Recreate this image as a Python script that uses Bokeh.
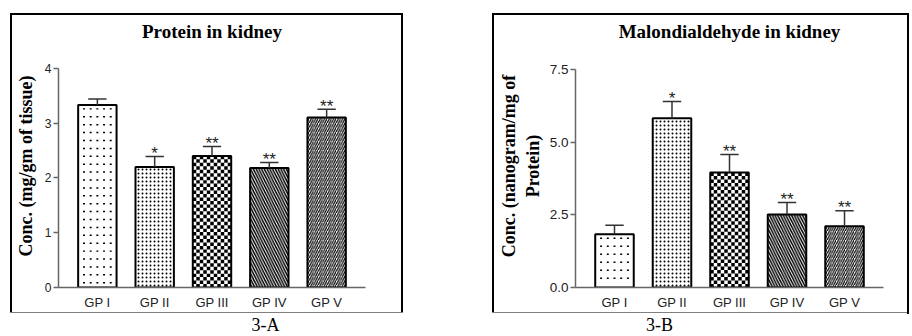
from bokeh.plotting import figure
from bokeh.layouts import row, column
from bokeh.models import Range1d, FixedTicker, NumeralTickFormatter, Spacer
from bokeh.core.properties import value
from bokeh.embed import file_html
from bokeh.resources import INLINE

# ---------------- data ----------------
groups = ["GP I", "GP II", "GP III", "GP IV", "GP V"]

protein_mean = [3.33, 2.20, 2.40, 2.18, 3.10]
protein_sem = [0.11, 0.19, 0.17, 0.10, 0.15]
protein_sig = ["", "*", "**", "**", "**"]
protein_ticks = [0, 1, 2, 3, 4]

mda_mean = [1.83, 5.83, 3.96, 2.51, 2.11]
mda_sem = [0.31, 0.57, 0.62, 0.42, 0.53]
mda_sig = ["", "*", "**", "**", "**"]
mda_ticks = [0.0, 2.5, 5.0, 7.5]

panel_labels = ["3-A", "3-B"]

# ---------------- styles ----------------
SERIF = "Liberation Serif"
SANS = "Liberation Sans"
PH = 297             # panel figure height (inside the black frame)
PAD = 0.678          # category padding (in category units)
BAR_W = 0.67
CAP_W = 0.32
CELL_PX = 3.5        # checkerboard cell size (px)
DOT_DX, DOT_DY = 6.7, 8.0   # sparse dot spacing (px)

# fill style of each group's bar
patterns = [
    ("sparse", None, None),
    ("dot", 4, 1.0),
    ("checker", None, None),
    ("left_diagonal_line", 5.5, 1.5),
    ("right_diagonal_line", 4.5, 1.2),
]
FRAME_CSS = {"outline": "2px solid black"}


def panel(title, ylabel, means, sems, sigs, ticks, width, mb_left, mb_right, mb_bottom,
          ymax, tick_fmt=None, tick_size="13px", label_standoff=6):
    n = len(groups)
    xs = [i + 1 for i in range(n)]
    x0, x1 = 1 - PAD, n + PAD
    top_border = 29
    p = figure(width=width, height=PH, output_backend="svg", toolbar_location=None,
               x_range=Range1d(x0, x1), y_range=Range1d(0, ymax),
               min_border_left=mb_left, min_border_right=mb_right,
               min_border_top=top_border, min_border_bottom=mb_bottom,
               title=title, styles=FRAME_CSS)
    p.title.align = "center"
    p.title.text_font = SERIF
    p.title.text_font_size = "19px"
    p.title.text_font_style = "bold"
    p.title.text_color = "black"
    p.title.standoff = 6
    p.grid.visible = False
    p.outline_line_color = None
    p.background_fill_color = "white"
    p.border_fill_color = "white"

    frame_w = width - mb_left - mb_right
    frame_h = PH - top_border - mb_bottom
    px_x = frame_w / (x1 - x0)
    px_y = frame_h / ymax

    # x axis
    xa = p.xaxis[0]
    xa.ticker = FixedTicker(ticks=xs)
    xa.major_label_overrides = {x: g for x, g in zip(xs, groups)}
    xa.major_tick_out = 0
    xa.major_tick_in = 0
    xa.major_tick_line_color = None
    xa.minor_tick_line_color = None
    xa.minor_tick_out = 0
    xa.axis_line_color = "#666666"
    xa.axis_line_width = 1.5
    xa.major_label_text_font = SANS
    xa.major_label_text_font_size = "13px"
    xa.major_label_text_color = "#222222"
    xa.major_label_standoff = 7

    # y axis
    ya = p.yaxis[0]
    ya.ticker = FixedTicker(ticks=ticks)
    ya.bounds = (ticks[0], ticks[-1])
    if tick_fmt:
        ya.formatter = NumeralTickFormatter(format=tick_fmt)
    ya.major_tick_out = 5
    ya.major_tick_in = 0
    ya.minor_tick_line_color = None
    ya.minor_tick_out = 0
    ya.major_tick_line_color = "#666666"
    ya.major_tick_line_width = 1.5
    ya.axis_line_color = "#666666"
    ya.axis_line_width = 1.5
    ya.major_label_text_font = SANS
    ya.major_label_text_font_size = tick_size
    ya.major_label_text_color = "#222222"
    ya.major_label_standoff = 2
    ya.axis_label = ylabel
    ya.axis_label_text_font = SERIF
    ya.axis_label_text_font_size = "18px"
    ya.axis_label_text_font_style = "bold"
    ya.axis_label_text_color = "black"
    ya.axis_label_standoff = label_standoff

    # bars with their fill patterns
    for i, (x, m) in enumerate(zip(xs, means)):
        kind, sc, wt = patterns[i]
        if kind in ("sparse", "checker"):
            p.vbar(x=[x], top=[m], bottom=0, width=BAR_W, fill_color="white", line_color=None)
            L, R, T, B = [], [], [], []
            if kind == "checker":
                nx = max(1, round(BAR_W * px_x / CELL_PX))
                ny = max(1, round(m * px_y / CELL_PX))
                cw, ch = BAR_W / nx, m / ny
                for r in range(ny):
                    for c in range(nx):
                        if (r + c) % 2 == 0:
                            L.append(x - BAR_W / 2 + c * cw)
                            R.append(x - BAR_W / 2 + (c + 1) * cw)
                            T.append(m - r * ch)
                            B.append(m - (r + 1) * ch)
            else:
                nx = int(BAR_W * px_x / DOT_DX)
                ny = int(m * px_y / DOT_DY)
                for r in range(ny):
                    yc = m - (r + 0.5) * DOT_DY / px_y
                    for c in range(nx):
                        xc = x + (c - (nx - 1) / 2) * DOT_DX / px_x
                        L.append(xc - 1.0 / px_x)
                        R.append(xc + 1.0 / px_x)
                        T.append(yc + 0.75 / px_y)
                        B.append(yc - 0.75 / px_y)
            p.quad(left=L, right=R, top=T, bottom=B, fill_color="black", line_color=None)
        else:
            p.vbar(x=[x], top=[m], bottom=0, width=BAR_W, fill_color="white", line_color=None,
                   hatch_pattern=kind, hatch_scale=sc, hatch_weight=wt,
                   hatch_color="black", hatch_alpha=1.0)

    # bar outlines
    p.vbar(x=xs, top=means, bottom=0, width=BAR_W, fill_color=None,
           line_color="black", line_width=2)

    # error bars (upper only) and significance marks
    tops = [m + s for m, s in zip(means, sems)]
    p.segment(x0=xs, y0=means, x1=xs, y1=tops, line_color="#333333", line_width=1.5)
    p.segment(x0=[x - CAP_W / 2 for x in xs], y0=tops, x1=[x + CAP_W / 2 for x in xs],
              y1=tops, line_color="#333333", line_width=1.5)
    p.text(x=xs, y=tops, text=sigs, text_align="center", text_baseline="alphabetic",
           y_offset=-3, text_font=value(SANS), text_font_size="17px", text_color="#222222")
    return p


p1 = panel("Protein in kidney", "Conc. (mg/gm of tissue)",
           protein_mean, protein_sem, protein_sig, protein_ticks,
           width=389, mb_left=45, mb_right=36, mb_bottom=22, ymax=4.432,
           tick_size="12px", label_standoff=6)

p2 = panel("Malondialdehyde in kidney", "Conc. (nanogram/mg of\nProtein)",
           mda_mean, mda_sem, mda_sig, mda_ticks,
           width=413, mb_left=81, mb_right=24, mb_bottom=24, ymax=8.365,
           tick_fmt="0.0", tick_size="13.5px", label_standoff=4)

# strip below the frames carrying the panel captions
LW, LH = 907, 24
cap = figure(width=LW, height=LH, output_backend="svg", toolbar_location=None,
             x_range=Range1d(0, LW), y_range=Range1d(0, LH),
             x_axis_location=None, y_axis_location=None, min_border=0)
cap.title.visible = False
cap.title.standoff = 0
cap.grid.visible = False
cap.outline_line_color = None
cap.text(x=[265, 659], y=[12, 12], text=panel_labels, text_align="center",
         text_baseline="middle", text_font=value(SERIF), text_font_size="18px",
         text_color="black")

layout = column(
    Spacer(height=15),
    row(Spacer(width=12), p1, Spacer(width=93), p2),
    cap,
)
open("out.html", "w").write(file_html(layout, INLINE))
